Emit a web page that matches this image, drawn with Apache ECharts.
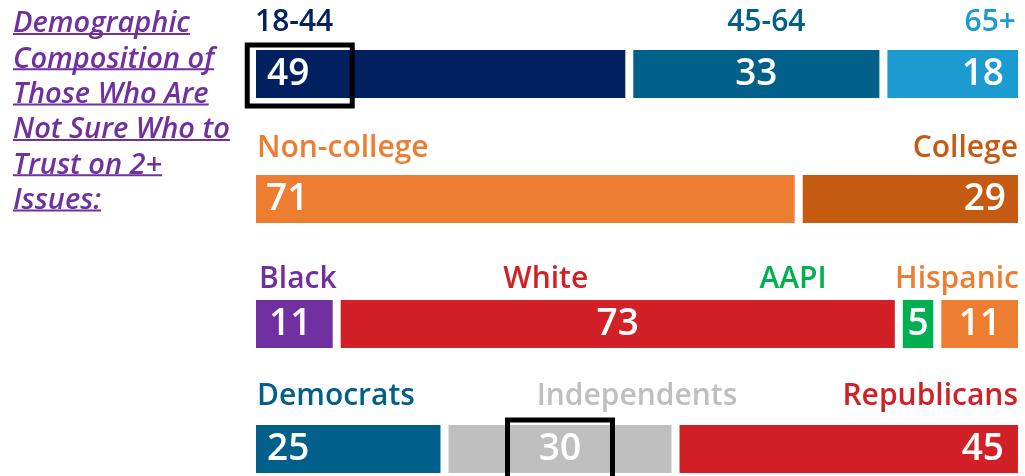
<!DOCTYPE html>
<html lang="en">
<head>
<meta charset="UTF-8">
<title>Demographic composition</title>
<script src="https://cdn.jsdelivr.net/npm/echarts@6/dist/echarts.min.js"></script>
<style>html,body{margin:0;padding:0;background:#fff}</style>
</head>
<body>
<div id="main" style="width:1025px;height:476px"></div>
<script>
var rows = ['Age', 'Education', 'Race', 'Party'];
var ageNames = ['18-44', '45-64', '65+'];
var ageValues = [49, 33, 18];
var eduNames = ['Non-college', 'College'];
var eduValues = [71, 29];
var raceNames = ['Black', 'White', 'AAPI', 'Hispanic'];
var raceValues = [11, 73, 5, 11];
var partyNames = ['Democrats', 'Independents', 'Republicans'];
var partyValues = [25, 30, 45];
var titleLines = ['Demographic', 'Composition of', 'Those Who Are', 'Not Sure Who to', 'Trust on 2+', 'Issues:'];
// boxed spots: row and x value at box centre
var highlightRows = ['Age', 'Party'];
var highlightAt = [6.2, 40];

var names = [ageNames, eduNames, raceNames, partyNames];
var values = [ageValues, eduValues, raceValues, partyValues];

var colors = [
    ['#002060', '#00608a', '#1b9bd0'],
    ['#ed7d31', '#c55a11'],
    ['#7030a0', '#d22027', '#00b050', '#ed7d31'],
    ['#00608a', '#bfbfbf', '#d22027']
];
// [position, distance, dx]
var valueLabelPos = [
    [['insideLeft', 15, 0], ['inside', 0, 0], ['insideRight', 18, 0]],
    [['insideLeft', 14, 0], ['insideRight', 16, 0]],
    [['insideLeft', 17, 0], ['inside', 0, 0], ['inside', 0, 0], ['inside', 0, 0]],
    [['insideLeft', 15, 0], ['inside', 0, 0], ['insideRight', 18, 0]]
];
var nameLabelPos = [
    [['insideLeft', 3, 0], ['inside', 0, 10], ['insideRight', 6, 0]],
    [['insideLeft', 5, 0], ['insideRight', 4, 0]],
    [['insideLeft', 7, 0], ['inside', 0, -72], ['inside', 0, -125], ['insideRight', 3, 0]],
    [['insideLeft', 5, 0], ['inside', 0, 77], ['insideRight', 4, 0]]
];
var nameDy = [-52, -51, -45, -53];

var FONT = '"Open Sans"';
var purple = '#7030a0';

function buildSeries(k, isName) {
    return {
        type: 'bar',
        stack: isName ? 'names' : 'values',
        barWidth: 56,
        barGap: '-100%',
        silent: true,
        z: isName ? 3 : 2,
        data: rows.map(function (row, r) {
            if (k >= values[r].length) return '-';
            var p = (isName ? nameLabelPos : valueLabelPos)[r][k];
            var item = {
                value: values[r][k],
                label: {
                    show: true,
                    position: p[0],
                    distance: p[1],
                    offset: [p[2], isName ? nameDy[r] : 0],
                    formatter: isName ? names[r][k] : String(values[r][k]),
                    fontFamily: FONT,
                    fontWeight: 600
                }
            };
            if (isName) {
                item.itemStyle = {color: 'rgba(0,0,0,0)'};
                item.label.color = colors[r][k];
                item.label.fontSize = 30;
            } else {
                item.itemStyle = {color: colors[r][k], borderColor: '#fff', borderWidth: 4};
                item.label.color = '#fff';
                item.label.fontSize = 37;
            }
            return item;
        })
    };
}

var series = [];
for (var k = 0; k < 4; k++) series.push(buildSeries(k, false));
for (var k = 0; k < 4; k++) series.push(buildSeries(k, true));

var chart = echarts.init(document.getElementById('main'));
chart.setOption({
    animation: false,
    grid: {left: 252, width: 770, top: 11.5, height: 500, outerBoundsMode: 'none'},
    xAxis: {type: 'value', min: 0, max: 100, show: false},
    yAxis: {type: 'category', data: rows, inverse: true, show: false},
    series: series
});

// title with underlines
var titleSize = 29;
var titleFont = 'italic 600 ' + titleSize + 'px ' + FONT;
var ctx = document.createElement('canvas').getContext('2d');
ctx.font = titleFont;
var graphics = [];
titleLines.forEach(function (line, i) {
    var base = 32 + i * 35.3;
    graphics.push({
        type: 'text', x: 13, y: base - 0.27 * titleSize, z: 100,
        style: {text: line, font: titleFont, fill: purple, verticalAlign: 'middle'}
    });
    graphics.push({
        type: 'rect', z: 100,
        shape: {x: 13, y: base + 1, width: ctx.measureText(line).width, height: 2},
        style: {fill: purple}
    });
});

// black boxes
highlightRows.forEach(function (row, i) {
    var c = chart.convertToPixel({gridIndex: 0}, [highlightAt[i], row]);
    graphics.push({
        type: 'rect', z: 100,
        shape: {x: c[0] - 52.5, y: c[1] - 29, width: 105, height: 61},
        style: {fill: 'none', stroke: '#000', lineWidth: 5}
    });
});

chart.setOption({graphic: graphics});
</script>
</body>
</html>
